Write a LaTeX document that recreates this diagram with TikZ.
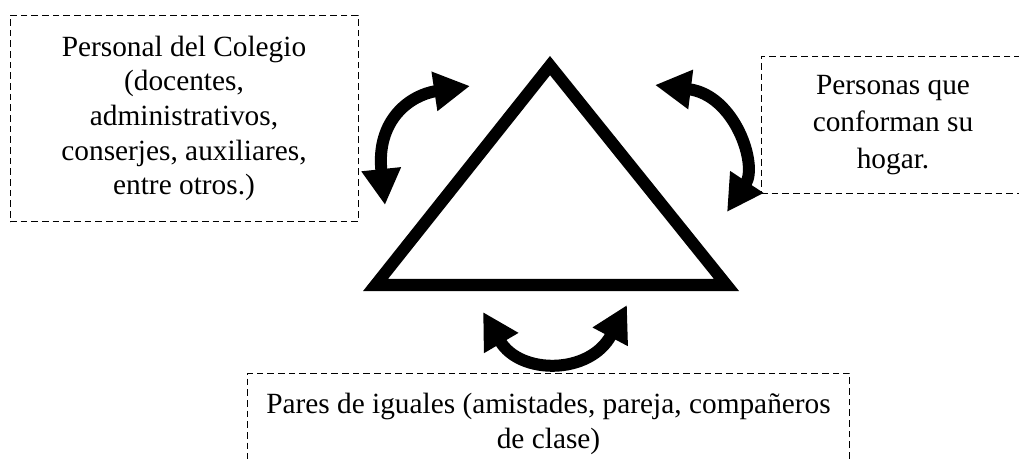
\documentclass[tikz,border=0pt]{standalone}
\usepackage{fontspec}
\setmainfont{Liberation Serif}
\usetikzlibrary{arrows.meta}
\tikzset{
	grupo/.style={draw, dash pattern=on 5pt off 3pt, line width=.75pt, align=center,
		font=\fontsize{22}{26}\selectfont, inner sep=0pt},
	flecha/.style={line width=9pt, {Triangle[width=28pt,length=27pt]}-{Triangle[width=28pt,length=27pt]}}
}
\begin{document}
\begin{tikzpicture}[x=.75pt,y=-.75pt]
		\useasboundingbox (0,0) rectangle (1019,459);
		\clip (0,0) rectangle (1019,459);
		
		\node[grupo, minimum width=261pt, minimum height=155pt] (colegio) at (184,118.5)
			{Personal del Colegio\\(docentes,\\administrativos,\\conserjes, auxiliares,\\entre otros.)};
		\node[grupo, font=\fontsize{22}{28}\selectfont, minimum width=198pt, minimum height=103pt] (hogar) at (893,125)
			{Personas que\\conforman su\\hogar.};
		\node[grupo, minimum width=452pt, minimum height=76pt] (pares) at (548.5,424)
			{Pares de iguales (amistades, pareja, compañeros\\de clase)};
		
		% triangulo
		\coordinate (top) at (550,65.6); \coordinate (izq) at (375.5,285); \coordinate (der) at (726.5,285);
		\draw [line width=9pt, miter limit=20] (top) -- (der) -- (izq) -- cycle;
		
		% flechas
		\coordinate (c1) at (385,205); \coordinate (c2) at (470,86);
		\coordinate (h1) at (655,85);  \coordinate (h2) at (727,212);
		\coordinate (p1) at (483,312); \coordinate (p2) at (627,305);
		\draw [flecha] (c1) .. controls (376,120) and (410,95) .. (c2);
		\draw [flecha] (h1) .. controls (735,95) and (758,165) .. (h2);
		\draw [flecha] (p1) .. controls (520,375) and (590,375) .. (p2);
		\end{tikzpicture}
\end{document}
